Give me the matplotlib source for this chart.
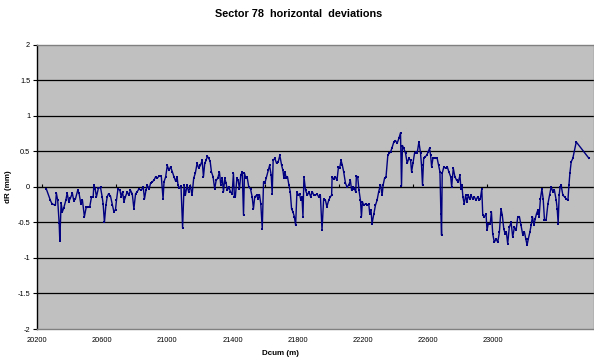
import matplotlib
matplotlib.use("Agg")
import matplotlib.pyplot as plt
import numpy as np

plt.rcParams['font.family'] = ['Liberation Sans', 'DejaVu Sans']

# Cumulative distance along the sector (m)
dcum = [
    20257, 20282, 20292, 20313, 20319, 20327, 20336, 20340, 20348, 20356,
    20364, 20377, 20385, 20395, 20405, 20417, 20426, 20436, 20450, 20458,
    20469, 20479, 20491, 20502, 20512, 20524, 20534, 20545, 20549, 20557,
    20565, 20577, 20590, 20600, 20606, 20614, 20623, 20631, 20639, 20651,
    20663, 20672, 20682, 20688, 20697, 20709, 20717, 20725, 20734, 20743,
    20754, 20764, 20774, 20785, 20795, 20805, 20815, 20826, 20840, 20852,
    20860, 20869, 20877, 20889, 20897, 20908, 20918, 20928, 20938, 20949,
    20963, 20974, 20980, 20990, 21000, 21010, 21020, 21031, 21041, 21051,
    21060, 21066, 21074, 21084, 21094, 21103, 21111, 21121, 21131, 21142,
    21152, 21162, 21172, 21183, 21193, 21203, 21214, 21222, 21230, 21238,
    21246, 21254, 21263, 21271, 21281, 21291, 21300, 21310, 21320, 21328,
    21337, 21345, 21353, 21361, 21369, 21377, 21388, 21398, 21406, 21412,
    21418, 21427, 21435, 21443, 21451, 21460, 21468, 21474, 21482, 21490,
    21500, 21511, 21521, 21529, 21537, 21548, 21558, 21566, 21574, 21583,
    21591, 21599, 21607, 21620, 21628, 21638, 21644, 21650, 21660, 21671,
    21681, 21691, 21702, 21710, 21716, 21722, 21730, 21738, 21747, 21755,
    21763, 21771, 21780, 21788, 21796, 21804, 21812, 21820, 21827, 21833,
    21839, 21849, 21860, 21870, 21880, 21890, 21900, 21909, 21919, 21929,
    21940, 21950, 21960, 21971, 21980, 21991, 22001, 22009, 22012, 22022,
    22032, 22042, 22051, 22058, 22067, 22075, 22083, 22094, 22103, 22114,
    22124, 22132, 22140, 22149, 22157, 22161, 22169, 22177, 22186, 22192,
    22198, 22206, 22217, 22227, 22237, 22243, 22251, 22257, 22268, 22278,
    22288, 22298, 22309, 22319, 22325, 22334, 22343, 22354, 22362, 22371,
    22380, 22391, 22401, 22411, 22422, 22432, 22438, 22444, 22452, 22463,
    22473, 22483, 22494, 22500, 22508, 22518, 22526, 22534, 22545, 22555,
    22561, 22567, 22574, 22582, 22592, 22602, 22610, 22617, 22623, 22631,
    22641, 22649, 22657, 22666, 22674, 22680, 22684, 22688, 22698, 22709,
    22719, 22729, 22740, 22746, 22756, 22766, 22777, 22787, 22797, 22803,
    22809, 22815, 22823, 22832, 22840, 22848, 22857, 22865, 22875, 22885,
    22895, 22906, 22916, 22922, 22931, 22937, 22947, 22957, 22963, 22971,
    22983, 22990, 22998, 23008, 23019, 23029, 23039, 23049, 23057, 23066,
    23074, 23082, 23090, 23100, 23111, 23121, 23131, 23142, 23152, 23162,
    23172, 23183, 23193, 23201, 23209, 23217, 23226, 23234, 23242, 23251,
    23259, 23267, 23275, 23283, 23291, 23300, 23308, 23316, 23326, 23337,
    23347, 23357, 23367, 23377, 23388, 23394, 23400, 23406, 23412, 23418,
    23429, 23439, 23449, 23460, 23466, 23472, 23480, 23490, 23511, 23589,
]

# Horizontal deviation dR (mm)
dr = [
    -0.03, -0.19, -0.24, -0.26, -0.09, -0.19, -0.51, -0.76, -0.23, -0.35,
    -0.30, -0.19, -0.09, -0.21, -0.16, -0.09, -0.20, -0.17, -0.05, -0.09,
    -0.24, -0.19, -0.42, -0.29, -0.29, -0.28, -0.15, -0.14, 0.03, -0.03,
    -0.14, -0.02, -0.01, -0.14, -0.24, -0.50, -0.26, -0.14, -0.10, -0.13,
    -0.26, -0.35, -0.32, -0.19, -0.03, -0.05, -0.14, -0.07, -0.21, -0.14,
    -0.07, -0.12, -0.05, -0.10, -0.31, -0.10, -0.07, -0.03, -0.05, 0.00,
    -0.17, -0.05, 0.02, -0.03, 0.05, 0.07, 0.09, 0.14, 0.12, 0.15,
    0.15, -0.17, 0.07, 0.14, 0.30, 0.23, 0.28, 0.21, 0.14, 0.08,
    0.14, 0.02, -0.02, 0.01, -0.58, 0.02, -0.12, 0.02, -0.07, 0.01,
    -0.12, 0.12, 0.19, 0.33, 0.26, 0.30, 0.37, 0.14, 0.33, 0.37,
    0.43, 0.40, 0.36, 0.21, 0.14, -0.03, 0.09, 0.12, 0.21, 0.03,
    0.12, -0.07, 0.12, 0.05, -0.05, 0.00, -0.07, -0.10, 0.19, -0.14,
    -0.14, 0.12, 0.09, -0.03, 0.16, 0.21, -0.40, 0.19, 0.12, 0.14,
    0.00, -0.03, -0.14, -0.31, -0.14, -0.12, -0.17, -0.11, -0.24, -0.59,
    0.07, 0.05, 0.12, 0.23, 0.30, 0.16, -0.10, 0.37, 0.40, 0.33,
    0.35, 0.44, 0.30, 0.23, 0.12, 0.21, 0.12, 0.14, 0.02, -0.07,
    -0.31, -0.35, -0.42, -0.54, -0.07, -0.12, -0.10, -0.19, -0.14, -0.42,
    0.14, -0.05, -0.12, -0.07, -0.14, -0.07, -0.12, -0.12, -0.10, -0.14,
    -0.12, -0.61, -0.17, -0.19, -0.28, -0.19, -0.14, -0.12, 0.14, 0.11,
    0.14, 0.09, 0.28, 0.26, 0.37, 0.30, 0.21, 0.05, 0.00, 0.02,
    0.09, -0.05, 0.00, -0.03, -0.07, 0.15, 0.14, -0.05, -0.19, -0.42,
    -0.21, -0.26, -0.24, -0.26, -0.24, -0.38, -0.33, -0.52, -0.38, -0.26,
    -0.19, -0.07, 0.03, -0.12, 0.02, 0.12, 0.14, 0.44, 0.47, 0.49,
    0.55, 0.63, 0.65, 0.61, 0.68, 0.76, 0.01, 0.58, 0.54, 0.47,
    0.33, 0.40, 0.37, 0.21, 0.33, 0.47, 0.49, 0.47, 0.63, 0.47,
    0.30, 0.02, 0.40, 0.42, 0.44, 0.49, 0.54, 0.44, 0.28, 0.40,
    0.40, 0.40, 0.40, 0.30, 0.21, -0.38, -0.68, 0.19, 0.28, 0.26,
    0.28, 0.21, 0.14, 0.00, 0.26, 0.14, 0.09, 0.07, 0.16, -0.03,
    0.02, -0.14, -0.24, -0.12, -0.21, -0.12, -0.17, -0.12, -0.17, -0.14,
    -0.19, -0.14, -0.19, -0.17, -0.03, -0.40, -0.42, -0.38, -0.61, -0.52,
    -0.52, -0.35, -0.66, -0.78, -0.73, -0.78, -0.64, -0.31, -0.40, -0.59,
    -0.66, -0.64, -0.80, -0.57, -0.50, -0.71, -0.57, -0.61, -0.42, -0.42,
    -0.54, -0.68, -0.64, -0.73, -0.82, -0.73, -0.64, -0.54, -0.42, -0.54,
    -0.45, -0.38, -0.33, -0.42, -0.17, -0.03, -0.17, -0.47, -0.47, -0.24,
    -0.12, 0.00, -0.07, -0.05, -0.19, -0.31, -0.52, -0.12, 0.00, 0.02,
    -0.12, -0.14, -0.17, -0.19, 0.02, 0.19, 0.35, 0.40, 0.63, 0.40,
]

x_ticks = [20200, 20600, 21000, 21400, 21800, 22200, 22600, 23000]
y_ticks = [-2, -1.5, -1, -0.5, 0, 0.5, 1, 1.5, 2]
y_ticklabels = ["-2", "-1.5", "-1", "-0.5", "0", "0.5", "1", "1.5", "2"]

fig = plt.figure(figsize=(5.94, 3.61), dpi=100)
ax = fig.add_axes([0.0623, 0.0886, 0.9377, 0.7881])
ax.set_facecolor('#C0C0C0')

ax.set_xlim(20200, 23620)
ax.set_ylim(-2, 2)

for yv in y_ticks[1:-1]:
    ax.axhline(yv, color='#000000', lw=0.9, zorder=1)

ax.plot(dcum, dr, color='#000080', lw=1.0, marker='s', markersize=1.6,
        markeredgewidth=0, zorder=3)

ax.set_xticks(x_ticks)
ax.set_xticklabels([str(v) for v in x_ticks])
ax.set_yticks(y_ticks)
ax.set_yticklabels(y_ticklabels)
ax.tick_params(axis='x', length=0, pad=6, labelsize=5.3, colors='#000000')
ax.tick_params(axis='y', length=3, width=0.8, pad=2, labelsize=5.3, colors='#000000')

for side in ('top', 'bottom', 'right'):
    ax.spines[side].set_color('#808080')
    ax.spines[side].set_linewidth(1.0)
ax.spines['left'].set_color('#000000')
ax.spines['left'].set_linewidth(1.0)

# Category axis crossing at zero: tick marks only, no labels
sec = ax.secondary_xaxis(0.5)
sec.set_xticks(np.arange(20231, 23620, 455.6))
sec.xaxis.set_ticklabels([])
sec.tick_params(axis='x', length=2.5, width=0.8, direction='out', color='#000000')
sec.spines['bottom'].set_color('#000000')
sec.spines['bottom'].set_linewidth(0.9)

ax.set_xlabel('Dcum (m)', fontsize=5.8, fontweight='bold', labelpad=4)
ax.xaxis.set_label_coords(0.437, -0.075)
ax.set_ylabel('dR (mm)', fontsize=5.8, fontweight='bold')
ax.yaxis.set_label_coords(-0.045, 0.5)

fig.text(0.502, 0.962, 'Sector 78  horizontal  deviations', ha='center', va='center',
         fontsize=7.8, fontweight='bold')

fig.savefig('out.png', dpi=100, facecolor='white')
